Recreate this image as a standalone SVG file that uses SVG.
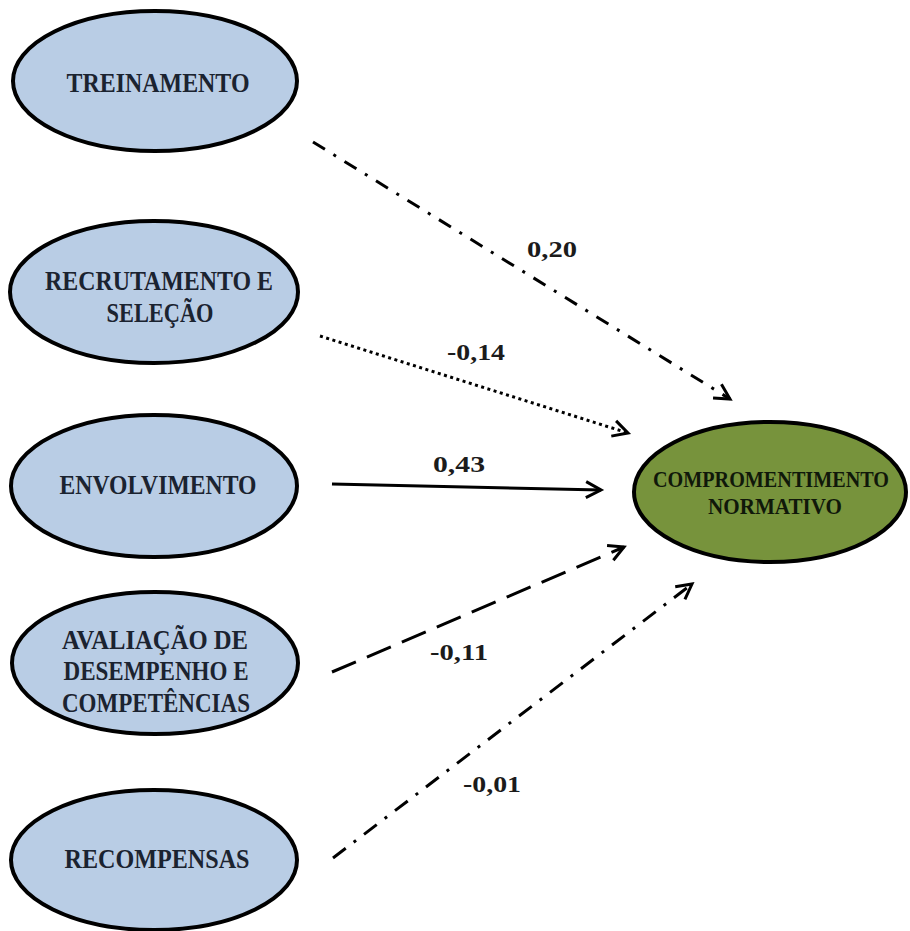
<svg xmlns="http://www.w3.org/2000/svg" width="910" height="931" viewBox="0 0 910 931">
<defs>
<style>
.n{fill:#b9cde5;stroke:#000;stroke-width:4}
.g{fill:#77933c;stroke:#000;stroke-width:4}
.t{font-family:"Liberation Serif","Times New Roman",serif;font-weight:bold;font-size:27px;fill:#1b2330;text-anchor:middle}
.tg{font-family:"Liberation Serif","Times New Roman",serif;font-weight:bold;font-size:23px;fill:#10180a;text-anchor:middle}
.l{font-family:"Liberation Serif","Times New Roman",serif;font-weight:bold;font-size:23px;fill:#1b1b1b}
.c{fill:none;stroke:#000;stroke-width:3}
</style>
<marker id="ah" markerUnits="userSpaceOnUse" viewBox="-18 -10 22 20" refX="0" refY="0" markerWidth="22" markerHeight="20" orient="auto" overflow="visible">
<path d="M-15,-8 L0,0 L-15,8" fill="none" stroke="#000" stroke-width="3"/>
</marker>
</defs>
<rect width="910" height="931" fill="#fff"/>
<g id="treinamento">
<ellipse class="n" cx="155" cy="81" rx="142" ry="70"/>
<text class="t" x="158" y="92" textLength="183" lengthAdjust="spacingAndGlyphs">TREINAMENTO</text>
</g>
<g id="recrutamento">
<ellipse class="n" cx="154" cy="292" rx="144" ry="71"/>
<text class="t" x="159" y="290" textLength="228" lengthAdjust="spacingAndGlyphs">RECRUTAMENTO E</text>
<text class="t" x="160" y="322" textLength="107" lengthAdjust="spacingAndGlyphs">SELEÇÃO</text>
</g>
<g id="envolvimento">
<ellipse class="n" cx="154" cy="486" rx="143" ry="71"/>
<text class="t" x="158" y="494" textLength="197" lengthAdjust="spacingAndGlyphs">ENVOLVIMENTO</text>
</g>
<g id="avaliacao">
<ellipse class="n" cx="155" cy="663" rx="143" ry="71"/>
<text class="t" x="155" y="649" textLength="186" lengthAdjust="spacingAndGlyphs">AVALIAÇÃO DE</text>
<text class="t" x="156" y="680" textLength="185" lengthAdjust="spacingAndGlyphs">DESEMPENHO E</text>
<text class="t" x="156" y="712" textLength="188" lengthAdjust="spacingAndGlyphs">COMPETÊNCIAS</text>
</g>
<g id="recompensas">
<ellipse class="n" cx="154" cy="860" rx="143" ry="70"/>
<text class="t" x="157" y="868" textLength="185" lengthAdjust="spacingAndGlyphs">RECOMPENSAS</text>
</g>
<g id="comprometimento">
<ellipse class="g" cx="770" cy="492" rx="136" ry="70"/>
<text class="tg" x="771" y="487" textLength="236" lengthAdjust="spacingAndGlyphs">COMPROMENTIMENTO</text>
<text class="tg" x="775" y="514" textLength="134" lengthAdjust="spacingAndGlyphs">NORMATIVO</text>
</g>
<g id="connectors">
<line class="c" x1="313" y1="142" x2="730" y2="399" stroke-dasharray="14 10 3 10" marker-end="url(#ah)"/>
<line class="c" x1="320" y1="336" x2="628" y2="433" stroke-dasharray="3 3.5" marker-end="url(#ah)"/>
<line class="c" x1="332" y1="484" x2="601" y2="490" marker-end="url(#ah)"/>
<line class="c" x1="332" y1="672" x2="624" y2="547" stroke-dasharray="26 12" marker-end="url(#ah)"/>
<line class="c" x1="333" y1="858" x2="692" y2="584" stroke-dasharray="16 10 3 10" marker-end="url(#ah)"/>
</g>
<g id="labels">
<text class="l" x="527" y="257" textLength="50" lengthAdjust="spacingAndGlyphs">0,20</text>
<text class="l" x="447" y="360" textLength="58" lengthAdjust="spacingAndGlyphs">-0,14</text>
<text class="l" x="433" y="472" textLength="52" lengthAdjust="spacingAndGlyphs">0,43</text>
<text class="l" x="430" y="660" textLength="58" lengthAdjust="spacingAndGlyphs">-0,11</text>
<text class="l" x="463" y="792" textLength="58" lengthAdjust="spacingAndGlyphs">-0,01</text>
</g>
</svg>
